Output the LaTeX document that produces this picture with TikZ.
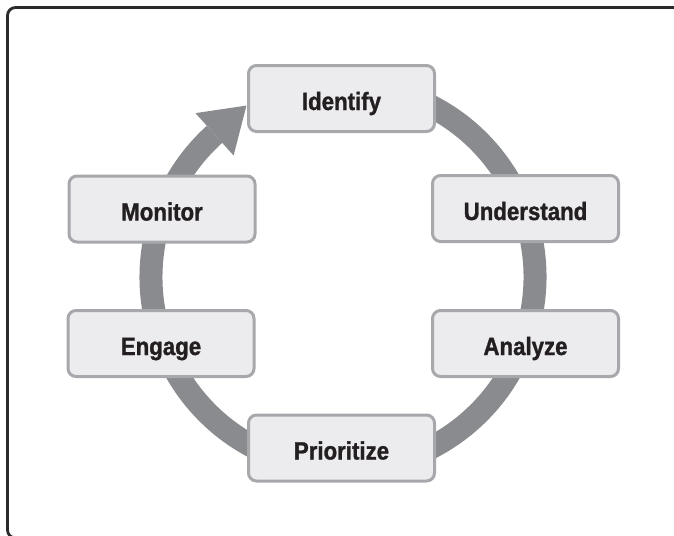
\documentclass[tikz,border=0pt]{standalone}
\usepackage{fontspec}
\setmainfont{Liberation Sans}[FakeStretch=0.89, BoldFeatures={FakeBold=1.2}]
\usetikzlibrary{calc}
\definecolor{ringgray}{HTML}{8A8B8E}
\definecolor{boxfill}{HTML}{ECECEF}
\definecolor{boxline}{HTML}{A6A8AB}
\definecolor{frameline}{HTML}{2B2B2B}
\definecolor{textdark}{HTML}{231F20}
\tikzset{
  stage/.style={draw=boxline, fill=boxfill, line width=3pt, rounded corners=8pt,
    minimum width=186pt, minimum height=66pt, inner sep=0pt,
    text height=23pt, text depth=0pt, text=textdark,
    font=\fontsize{25}{30}\selectfont\bfseries},
  ring/.style={draw=ringgray, line width=23pt},
  frame/.style={draw=frameline, line width=2.8pt, rounded corners=8pt}
}
\begin{document}
\begin{tikzpicture}[x=1pt,y=-1pt]
\useasboundingbox (0,0) rectangle (674,535);
\clip (0,0) rectangle (674,535);
\draw[frame] (7.5,7.5) rectangle (700,538);
\coordinate (c) at (343,277);
\draw[ring] ($(c)+(-80:192)$) arc[start angle=-80, end angle=228, radius=192];
\fill[ringgray] ($(c)+(228:220.5)$) -- ($(c)+(228:192)+(318:43)$) -- ($(c)+(228:163.5)$) -- cycle;
\node[stage] (identify) at (341.5,98.5) {Identify};
\node[stage] (understand) at (525.5,208.5) {Understand};
\node[stage] (analyze) at (525.5,343.5) {Analyze};
\node[stage] (prioritize) at (341.5,448) {Prioritize};
\node[stage] (engage) at (161,343.5) {Engage};
\node[stage] (monitor) at (162,209) {Monitor};
\end{tikzpicture}
\end{document}
